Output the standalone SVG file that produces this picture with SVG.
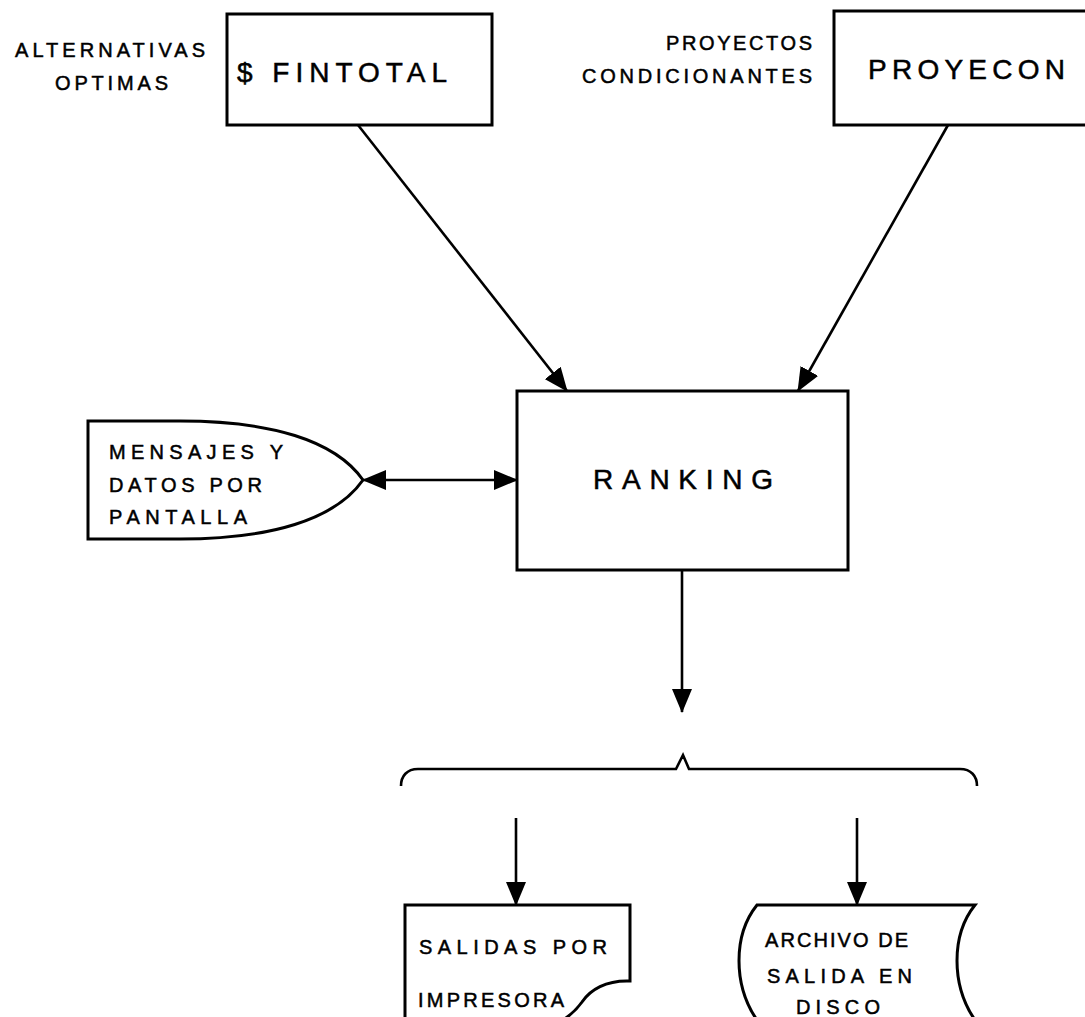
<svg xmlns="http://www.w3.org/2000/svg" width="1085" height="1017" viewBox="0 0 1085 1017">
<style>
.box{fill:#fff;stroke:#000;stroke-width:3}
.ln{fill:none;stroke:#000;stroke-width:2.6}
text{font-family:"Liberation Sans","DejaVu Sans",sans-serif;fill:#000;stroke:#000;stroke-width:0.5}
.sm{font-size:20px}
.md{font-size:20px}
.lg{font-size:28px}
</style>
<defs>
<marker id="ah" viewBox="0 0 24 20" refX="23" refY="10" markerWidth="24" markerHeight="20" markerUnits="userSpaceOnUse" orient="auto-start-reverse">
<path d="M0,0 L24,10 L0,20 Z" fill="#000"/>
</marker>
</defs>
<rect width="1085" height="1017" fill="#fff"/>

<g id="label-alternativas">
<text class="sm" x="15" y="57" textLength="190" lengthAdjust="spacing">ALTERNATIVAS</text>
<text class="sm" x="55" y="90" textLength="113" lengthAdjust="spacing">OPTIMAS</text>
</g>

<g id="fintotal">
<rect class="box" x="227" y="14" width="265" height="111"/>
<text class="lg" x="237" y="82" textLength="210" lengthAdjust="spacing">$ FINTOTAL</text>
</g>

<g id="label-proyectos">
<text class="sm" x="812" y="50" text-anchor="end" textLength="146" lengthAdjust="spacing">PROYECTOS</text>
<text class="sm" x="812" y="83" text-anchor="end" textLength="230" lengthAdjust="spacing">CONDICIONANTES</text>
</g>

<g id="proyecon">
<rect class="box" x="834" y="11" width="270" height="114"/>
<text class="lg" x="868" y="79" textLength="197" lengthAdjust="spacing">PROYECON</text>
</g>

<g id="ranking">
<rect class="box" x="517" y="391" width="331" height="179"/>
<text class="lg" x="593" y="489" textLength="180" lengthAdjust="spacing">RANKING</text>
</g>

<g id="mensajes">
<path class="box" d="M88,421 L180,421 C270,421 335,440 363,480 C335,520 270,539 180,539 L88,539 Z"/>
<text class="md" x="109" y="459" textLength="174" lengthAdjust="spacing">MENSAJES  Y</text>
<text class="md" x="109" y="492" textLength="153" lengthAdjust="spacing">DATOS POR</text>
<text class="md" x="109" y="524" textLength="138" lengthAdjust="spacing">PANTALLA</text>
</g>

<g id="impresora">
<path class="box" d="M405,1020 L405,905 L630,905 L630,981 C606,980 590,990 582,1002 C575,1012 568,1017 560,1022"/>
<text class="sm" x="419" y="954" textLength="188" lengthAdjust="spacing">SALIDAS  POR</text>
<text class="sm" x="418" y="1007" textLength="146" lengthAdjust="spacing">IMPRESORA</text>
</g>

<g id="disco">
<path class="box" d="M757,1020 C733,985 733,935 757,905 L975,905 C951,935 951,985 975,1020"/>
<text class="sm" x="765" y="947" textLength="143" lengthAdjust="spacing">ARCHIVO DE</text>
<text class="sm" x="767" y="983" textLength="145" lengthAdjust="spacing">SALIDA EN</text>
<text class="sm" x="796" y="1014" textLength="84" lengthAdjust="spacing">DISCO</text>
</g>

<g id="connectors">
<line class="ln" x1="358" y1="125" x2="567" y2="391" marker-end="url(#ah)"/>
<line class="ln" x1="948" y1="125" x2="798" y2="391" marker-end="url(#ah)"/>
<line class="ln" x1="363" y1="480" x2="517" y2="480" marker-start="url(#ah)" marker-end="url(#ah)"/>
<line class="ln" x1="682" y1="570" x2="682" y2="712" marker-end="url(#ah)"/>
<path class="ln" d="M401,786 C401,776 407,769 418,769 L676,769 L683,755 L689,769 L960,769 C971,769 977,776 977,786"/>
<line class="ln" x1="516" y1="818" x2="516" y2="905" marker-end="url(#ah)"/>
<line class="ln" x1="857" y1="818" x2="857" y2="905" marker-end="url(#ah)"/>
</g>
</svg>
